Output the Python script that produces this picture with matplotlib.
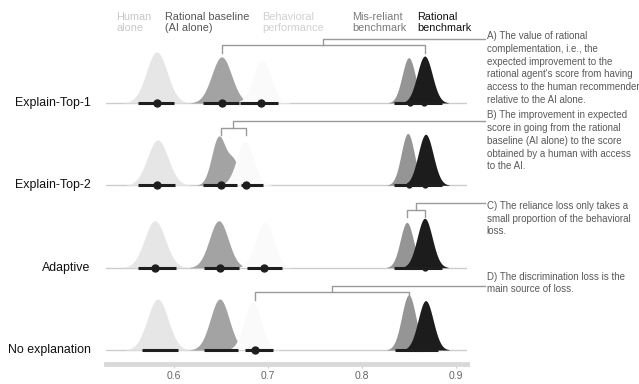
import matplotlib
matplotlib.use('Agg')
import matplotlib.pyplot as plt
import numpy as np

plt.rcParams['font.family'] = ['Liberation Sans', 'DejaVu Sans']

rows = ['Explain-Top-1', 'Explain-Top-2', 'Adaptive', 'No explanation']
row_y = [3, 2, 1, 0]

# condition: name, fill colour, header colour
cond_names = ['Human\nalone', 'Rational baseline\n(AI alone)', 'Behavioral\nperformance',
              'Mis-reliant\nbenchmark', 'Rational\nbenchmark']
cond_fill = ['#e6e6e6', '#a3a3a3', '#fafafa', '#959595', '#1c1c1c']
cond_text = ['#c8c8c8', '#555555', '#d0d0d0', '#7a7a7a', '#111111']
header_x = [0.539, 0.591, 0.694, 0.790, 0.859]

# density estimates per row (mean, sd, peak height)
human_mean = [0.582, 0.583, 0.580, 0.583]
human_sd = [0.0110, 0.0110, 0.0110, 0.0110]
human_peak = [0.62, 0.55, 0.57, 0.62]
human_lo = [0.562, 0.562, 0.562, 0.566]
human_hi = [0.600, 0.601, 0.602, 0.605]
human_pt = [0.582, 0.582, 0.580, np.nan]

base_mean = [0.651, 0.648, 0.648, 0.649]
base_sd = [0.0105, 0.0075, 0.0100, 0.0100]
base_peak = [0.56, 0.60, 0.57, 0.62]
base_shoulder = [0.0, 0.45, 0.0, 0.0]  # relative height of second bump
base_shoulder_mean = [0.66, 0.664, 0.66, 0.66]
base_lo = [0.631, 0.631, 0.632, 0.632]
base_hi = [0.670, 0.667, 0.670, 0.668]
base_pt = [0.651, 0.650, 0.649, np.nan]

behav_mean = [0.694, 0.676, 0.697, 0.684]
behav_sd = [0.0095, 0.0090, 0.0095, 0.0090]
behav_peak = [0.52, 0.53, 0.55, 0.58]
behav_lo = [0.671, 0.672, 0.678, 0.676]
behav_hi = [0.711, 0.695, 0.715, 0.706]
behav_pt = [0.693, 0.677, 0.696, 0.687]

mis_mean = [0.850, 0.849, 0.848, 0.850]
mis_sd = [0.0070, 0.0070, 0.0070, 0.0075]
mis_peak = [0.55, 0.63, 0.55, 0.67]
mis_lo = [0.834, 0.834, 0.834, 0.835]
mis_hi = [0.866, 0.866, 0.866, 0.866]
mis_pt = [0.851, 0.850, np.nan, np.nan]

rat_mean = [0.867, 0.868, 0.867, 0.868]
rat_sd = [0.0080, 0.0080, 0.0080, 0.0080]
rat_peak = [0.57, 0.62, 0.60, 0.60]
rat_lo = [0.850, 0.850, 0.850, 0.850]
rat_hi = [0.885, 0.885, 0.885, 0.881]
rat_pt = [0.866, 0.867, 0.867, np.nan]

# annotations: row index, left end, right end, text, text top
notes = [
    (0, 'base', 'rat', "A) The value of rational\ncomplementation, i.e., the\nexpected improvement to the\n"
                       "rational agent's score from having\naccess to the human recommender\nrelative to the AI alone.", 3.87),
    (1, 'base', 'behav', "B) The improvement in expected\nscore in going from the rational\nbaseline (AI alone) to the score\n"
                         "obtained by a human with access\nto the AI.", 2.91),
    (2, 'mis', 'rat', "C) The reliance loss only takes a\nsmall proportion of the behavioral\nloss.", 1.81),
    (3, 'behav', 'mis', "D) The discrimination loss is the\nmain source of loss.", 0.95),
]
centres = {'base': base_pt, 'behav': behav_pt, 'mis': mis_mean, 'rat': rat_mean}

fig = plt.figure(figsize=(6.39, 3.84), dpi=100)
ax = fig.add_axes([106 / 639, 20 / 384, 361 / 639, 364 / 384])
ax.set_xlim(0.528, 0.912)
ax.set_ylim(-0.17, 4.25)

xs = np.linspace(0.50, 0.95, 900)


def bump(mu, sd):
    return np.exp(-0.5 * ((xs - mu) / sd) ** 2)


for i, y0 in enumerate(row_y):
    ax.plot([0.528, 0.912], [y0, y0], color='#cccccc', lw=1, zorder=1)

    dens = [
        human_peak[i] * bump(human_mean[i], human_sd[i]),
        None,
        behav_peak[i] * bump(behav_mean[i], behav_sd[i]),
        mis_peak[i] * bump(mis_mean[i], mis_sd[i]),
        rat_peak[i] * bump(rat_mean[i], rat_sd[i]),
    ]
    b = bump(base_mean[i], base_sd[i]) + base_shoulder[i] * bump(base_shoulder_mean[i], 0.006)
    dens[1] = base_peak[i] * b / b.max()

    for k in [0, 2, 1, 3, 4]:
        d = dens[k]
        mask = d > 0.004
        ax.fill_between(xs[mask], y0, y0 + d[mask], color=cond_fill[k], lw=0, zorder=2 + k * 0.1)

    for j, (lo, hi, pt) in enumerate([(human_lo[i], human_hi[i], human_pt[i]),
                                      (base_lo[i], base_hi[i], base_pt[i]),
                                      (behav_lo[i], behav_hi[i], behav_pt[i]),
                                      (mis_lo[i], mis_hi[i], mis_pt[i]),
                                      (rat_lo[i], rat_hi[i], rat_pt[i])]):
        ax.plot([lo, hi], [y0, y0], color='#1e1e1e', lw=2.2, solid_capstyle='butt', zorder=4)
        if not np.isnan(pt):
            ax.plot(pt, y0, 'o', color='#1e1e1e', ms=5 if j < 3 else 3.5, zorder=5)

    ax.text(0.5116, y0, rows[i], ha='right', va='center', fontsize=8.9, color='#111111')

# brackets
for r, a, b_, txt, ttop in notes:
    y0 = row_y[r]
    xa, xb = centres[a][r], centres[b_][r]
    xm = (xa + xb) / 2
    lc = '#9a9a9a'
    ax.plot([xa, xa, xb, xb], [y0 + 0.61, y0 + 0.70, y0 + 0.70, y0 + 0.61], color=lc, lw=1, zorder=3)
    ax.plot([xm, xm, 0.931], [y0 + 0.70, y0 + 0.78, y0 + 0.78], color=lc, lw=1, clip_on=False, zorder=3)
    ax.text(0.933, ttop, txt, ha='left', va='top', fontsize=7.0, color='#5a5a5a',
            linespacing=1.34, clip_on=False)

# header labels
for k in range(5):
    ax.text(header_x[k], 3.98, cond_names[k], ha='left', va='center', fontsize=7.8,
            color=cond_text[k], linespacing=1.1)

for s in ['top', 'right', 'left']:
    ax.spines[s].set_visible(False)
ax.spines['bottom'].set_color('#d9d9d9')
ax.spines['bottom'].set_linewidth(3.5)
ax.set_yticks([])
ax.set_xticks([0.6, 0.7, 0.8, 0.9])
ax.set_xticklabels(['0.6', '0.7', '0.8', '0.9'])
ax.tick_params(axis='x', colors='#cccccc', labelcolor='#666666', labelsize=7.5, length=3, width=0.8, pad=2)

fig.savefig('out.png', dpi=100)
